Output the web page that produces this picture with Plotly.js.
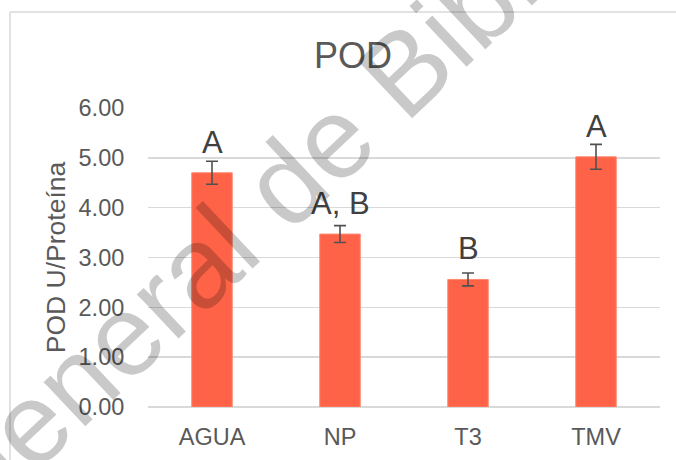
<!DOCTYPE html>
<html>
<head>
<meta charset="utf-8">
<script src="https://cdn.plot.ly/plotly-3.0.1.min.js"></script>
<style>html,body{margin:0;padding:0;background:#fff;}#chart{width:676px;height:460px;}</style>
</head>
<body>
<div id="chart"></div>
<script>
// ---- data ----
const categories = ['AGUA', 'NP', 'T3', 'TMV'];
const values = [4.70, 3.47, 2.56, 5.02];
const errors = [0.23, 0.17, 0.13, 0.25];
const letters = ['A', 'A, B', 'B', 'A'];
const yTickVals = [0, 1, 2, 3, 4, 5, 6];
const titleText = 'POD';
const yTitleText = 'POD U/Proteína';
const watermarkText = 'General de Bibliotecas';

const FONT = 'Liberation Sans, Arial, sans-serif';
const TXT = '#595959';

const trace = {
  type: 'bar',
  x: categories,
  y: values,
  width: 0.316,
  marker: {color: '#FF6347', line: {color: '#FF8670', width: 1}},
  error_y: {type: 'data', array: errors, visible: true, color: '#505050', thickness: 1.6, width: 6},
  hoverinfo: 'x+y'
};

const annotations = categories.map((c, i) => ({
  x: c, y: values[i], xref: 'x', yref: 'y',
  text: letters[i], showarrow: false,
  xanchor: 'center', yanchor: 'bottom', yshift: 11,
  font: {family: FONT, size: 31, color: '#404040'}
}));

annotations.push({
  xref: 'paper', yref: 'paper', x: (361.5 - 148) / 512, y: (407 - 111) / 299,
  xanchor: 'center', yanchor: 'middle',
  text: watermarkText, showarrow: false, textangle: -43.3,
  font: {family: FONT, size: 115, color: 'rgba(0,0,0,0.21)'}
});

const layout = {
  width: 676, height: 460,
  margin: {l: 148, r: 16, t: 108, b: 53},
  paper_bgcolor: '#ffffff', plot_bgcolor: '#ffffff',
  showlegend: false,
  title: {
    text: titleText, xref: 'container', yref: 'container',
    x: 353 / 676, y: 1 - 55 / 460, xanchor: 'center', yanchor: 'middle',
    font: {family: FONT, size: 36, color: TXT}
  },
  xaxis: {
    type: 'category', showgrid: false, zeroline: false, showline: false,
    ticks: 'outside', ticklen: 9, tickcolor: 'rgba(0,0,0,0)',
    tickfont: {family: FONT, size: 23.5, color: TXT}
  },
  yaxis: {
    range: [0, 6], tickvals: yTickVals, tickformat: '.2f',
    showgrid: true, gridcolor: '#d9d9d9', gridwidth: 1.4,
    zeroline: true, zerolinecolor: '#d9d9d9', zerolinewidth: 1.4, showline: false,
    ticks: 'outside', ticklen: 18, tickcolor: 'rgba(0,0,0,0)',
    tickfont: {family: FONT, size: 23.5, color: TXT},
    title: {text: yTitleText, standoff: 5, font: {family: FONT, size: 26.5, color: TXT}},
    automargin: false
  },
  shapes: [
    {type: 'line', xref: 'paper', yref: 'paper', x0: (10 - 148) / 512, x1: 1.2, y0: (407 - 12) / 299, y1: (407 - 12) / 299,
     line: {color: '#d9d9d9', width: 1.5}},
    {type: 'line', xref: 'paper', yref: 'paper', x0: (10 - 148) / 512, x1: (10 - 148) / 512, y0: -0.3, y1: (407 - 12) / 299,
     line: {color: '#d9d9d9', width: 1.5}}
  ],
  annotations: annotations
};

Plotly.newPlot('chart', [trace], layout, {displayModeBar: false, staticPlot: true});
</script>
</body>
</html>
